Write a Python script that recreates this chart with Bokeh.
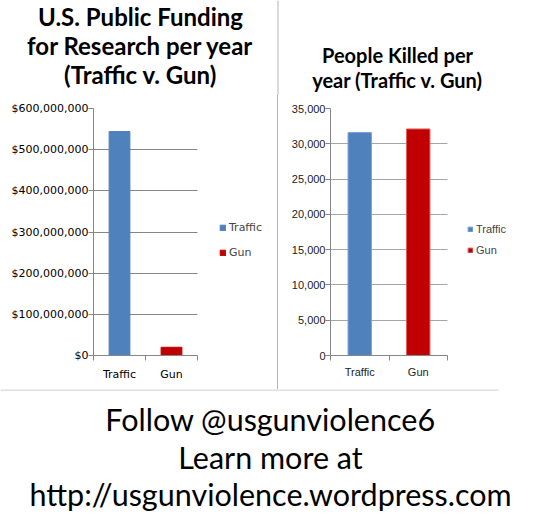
from bokeh.plotting import figure
from bokeh.layouts import column, row
from bokeh.models import (Range1d, FixedTicker, NumeralTickFormatter, Legend, LegendItem,
                          ColumnDataSource, Div, SingleIntervalTicker)
from bokeh.embed import file_html
from bokeh.resources import INLINE
from bokeh.core.properties import value

# ---- data ----
categories = ["Traffic", "Gun"]
funding = [544000000, 20000000]
killed = [31600, 32100]
colors = ["#4F81BD", "#C00000"]
edge_colors = ["#7BA2D6", "#E05A5A"]
left_title = ["U.S. Public Funding", "for Research per year", "(Traffic v. Gun)"]
right_title = ["People Killed per", "year (Traffic v. Gun)"]
footer_lines = ["Follow @usgunviolence6", "Learn more at", "http://usgunviolence.wordpress.com"]

xs = [i + 0.5 for i in range(len(categories))]
label_map = {x: c for x, c in zip(xs, categories)}
ncat = len(categories)

GRID = "#868686"
SEP = "#b4b4b4"


def blank_fig(width, height):
    f = figure(width=width, height=height, x_range=Range1d(0, width), y_range=Range1d(0, height),
               output_backend="svg", toolbar_location=None, min_border=0, title=None,
               x_axis_location=None, y_axis_location=None)
    f.grid.grid_line_color = None
    f.outline_line_color = None
    return f


def add_lines(f, lines, xc, ys, size, style="normal"):
    src = ColumnDataSource(dict(x=[xc] * len(lines), y=ys, text=lines))
    f.text(x="x", y="y", text="text", source=src, text_align="center",
           text_baseline="middle", text_font=value("Lato"), text_font_size=size,
           text_font_style=style, text_color="#000000")


def chart(width, height, frame_left, plot_px, ymax, top_b, bot_b):
    frame_w = width - frame_left
    xend = ncat * frame_w / plot_px
    p = figure(width=width, height=height, x_range=Range1d(0, xend), y_range=Range1d(0, ymax),
               output_backend="svg", toolbar_location=None, title=None,
               min_border_left=frame_left, min_border_right=0,
               min_border_top=top_b, min_border_bottom=bot_b)
    return p


def style_axes(p, font, size, color, xstandoff, grid_color):
    p.xgrid.grid_line_color = None
    p.ygrid.grid_line_color = grid_color
    p.ygrid.cross_bounds = (0, ncat)
    p.outline_line_color = None
    xa = p.xaxis[0]
    xa.bounds = (0, ncat)
    xa.ticker = FixedTicker(ticks=xs, minor_ticks=list(range(ncat + 1)))
    xa.major_label_overrides = label_map
    xa.major_tick_out = 0
    xa.major_tick_in = 0
    xa.minor_tick_out = 5
    xa.minor_tick_in = 0
    xa.minor_tick_line_color = GRID
    xa.axis_line_color = GRID
    xa.major_label_text_font = font
    xa.major_label_text_font_size = size
    xa.major_label_text_color = color
    xa.major_label_standoff = xstandoff
    ya = p.yaxis[0]
    ya.major_tick_out = 5
    ya.major_tick_in = 0
    ya.minor_tick_line_color = None
    ya.major_tick_line_color = GRID
    ya.axis_line_color = GRID
    ya.major_label_text_font = font
    ya.major_label_text_font_size = size
    ya.major_label_text_color = color
    ya.major_label_standoff = 0


# ---- titles (one strip across both panels) ----
titles = blank_fig(543, 95)
add_lines(titles, left_title, 140, [78.6, 50.1, 21.3], "24px", "bold")
add_lines(titles, right_title, 397, [41, 16], "20px", "bold")
titles.segment(x0=[277.5], y0=[0], x1=[277.5], y1=[95], line_color=SEP, line_width=1)

# ---- left chart ----
src1 = ColumnDataSource(dict(x=xs, top=funding, cat=categories, color=colors))
p1 = chart(277, 294, 93, 104, 600000000, 12, 34)
r1 = p1.vbar(x="x", top="top", width=0.4, color="color", source=src1)
style_axes(p1, "DejaVu Sans", "11px", "#000000", 7, GRID)
p1.yaxis[0].ticker = SingleIntervalTicker(interval=100000000)
p1.yaxis[0].formatter = NumeralTickFormatter(format="$0,0")
leg1 = Legend(items=[LegendItem(label=c, renderers=[r1], index=i) for i, c in enumerate(categories)],
              location=(126, 96), padding=0, margin=0, spacing=12,
              glyph_width=7, glyph_height=7, label_height=13, label_standoff=3,
              label_text_font="DejaVu Sans", label_text_font_size="11px",
              border_line_color=None, background_fill_alpha=0)
p1.add_layout(leg1, "center")

# ---- right chart ----
src2 = ColumnDataSource(dict(x=xs, top=killed, cat=categories, color=colors, edge=edge_colors))
p2 = chart(265, 294, 52, 117, 35000, 13, 31)
r2 = p2.vbar(x="x", top="top", width=0.4, fill_color="color", line_color="edge",
             line_width=1, source=src2)
style_axes(p2, "Liberation Sans", "11px", "#222222", 5, "#a6a6a6")
p2.yaxis[0].ticker = SingleIntervalTicker(interval=5000)
p2.yaxis[0].formatter = NumeralTickFormatter(format="0,0")
leg2 = Legend(items=[LegendItem(label=c, renderers=[r2], index=i) for i, c in enumerate(categories)],
              location=(137, 99), padding=0, margin=0, spacing=8,
              glyph_width=6, glyph_height=6, label_height=13, label_standoff=3,
              label_text_font="Liberation Sans", label_text_font_size="11px",
              border_line_color=None, background_fill_alpha=0)
p2.add_layout(leg2, "center")

# ---- vertical separator ----
vsep = Div(text="", width=1, height=294, margin=0, styles={"background-color": SEP})

# ---- footer ----
foot = blank_fig(543, 138)
foot.segment(x0=[0], y0=[137.5], x1=[498], y1=[137.5], line_color="#c0c0c0", line_width=1)
add_lines(foot, footer_lines, 270, [108.2, 70.2, 33.2], "30.5px")

layout = column(titles, row(p1, vsep, p2, spacing=0), foot, spacing=0)

open("out.html", "w").write(file_html(layout, INLINE))
